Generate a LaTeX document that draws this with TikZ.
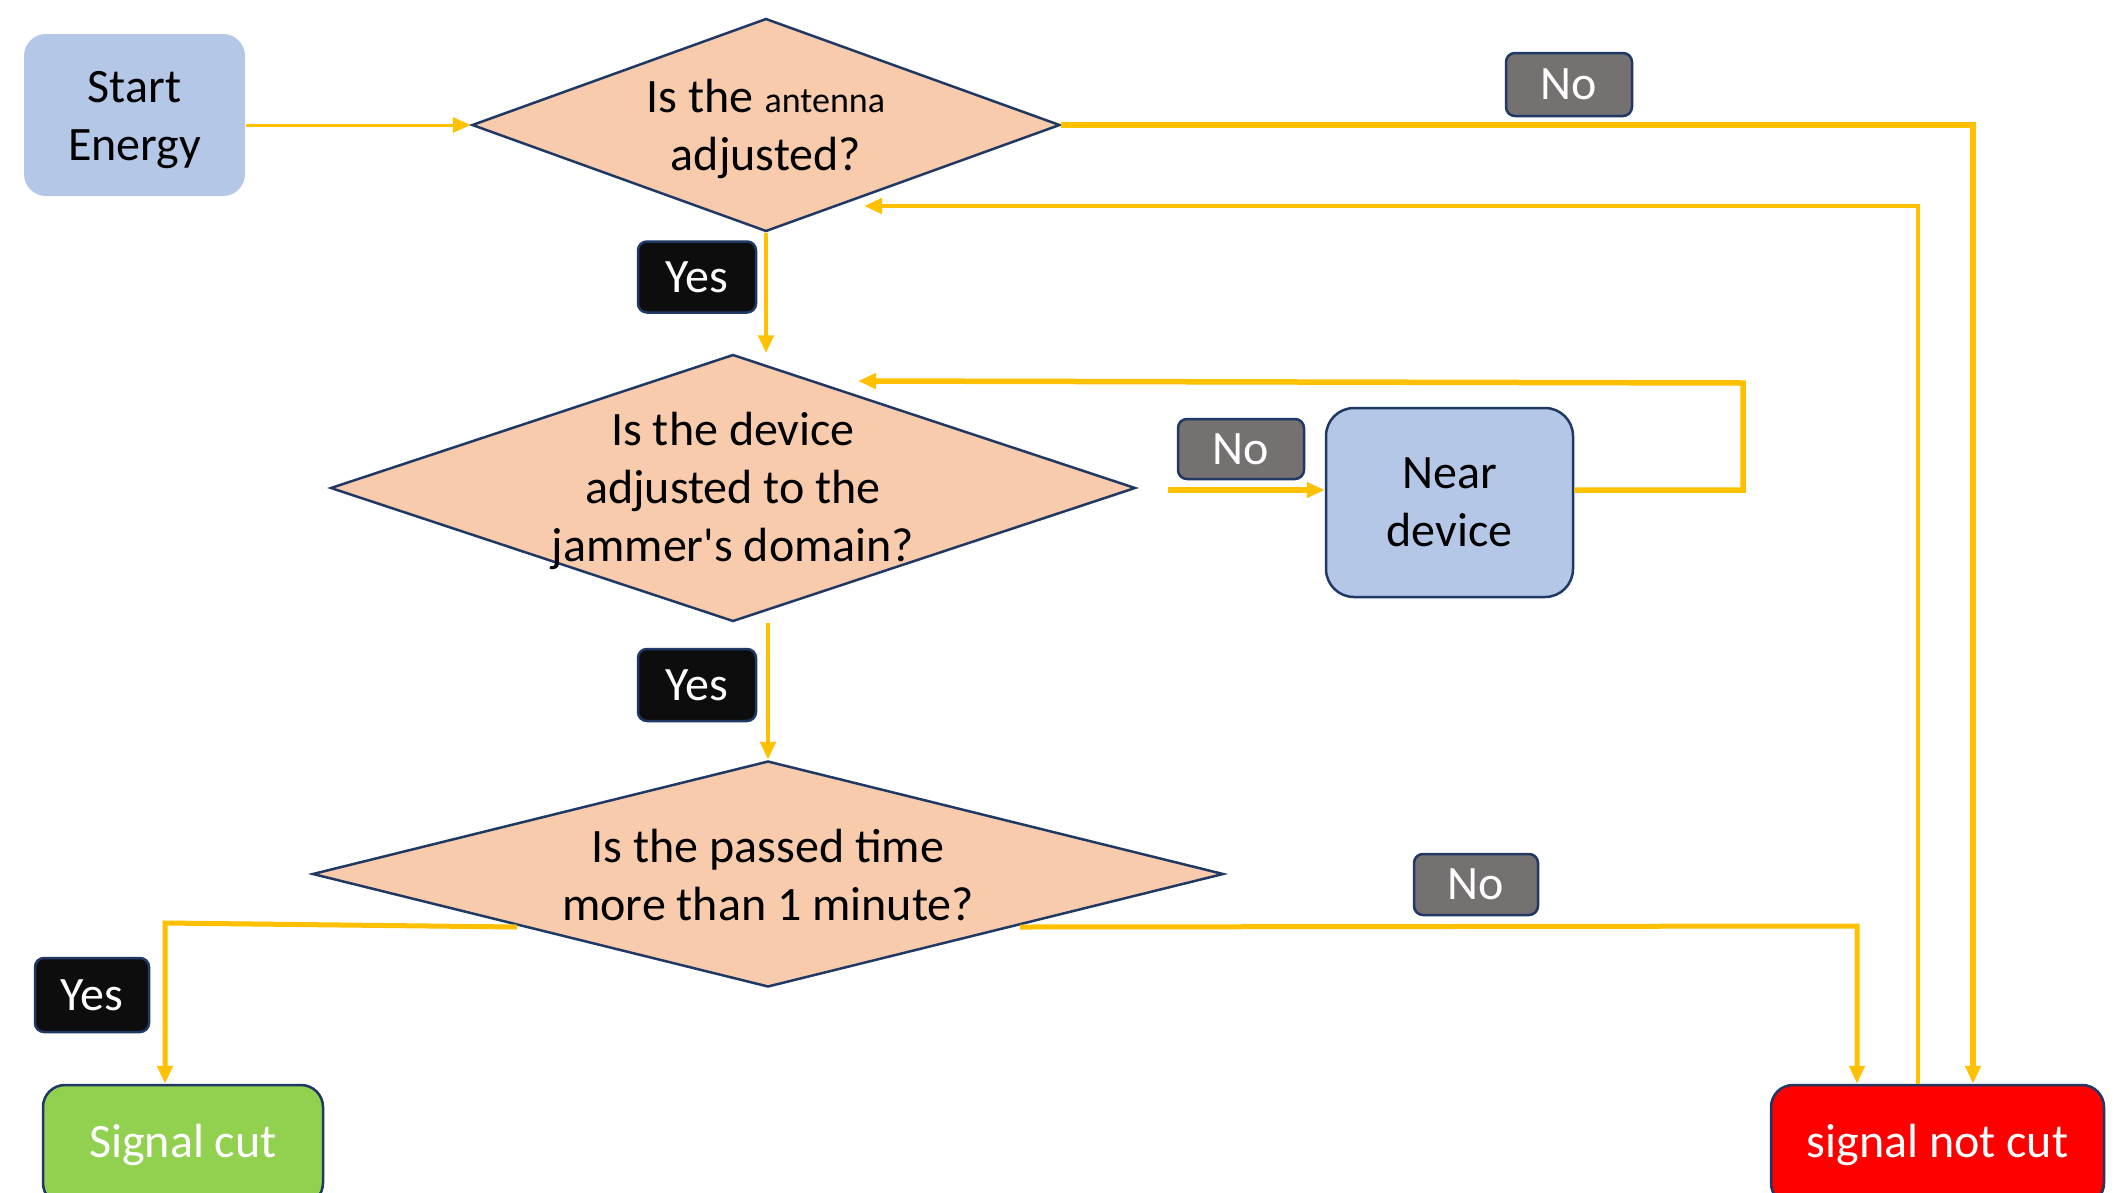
\documentclass[tikz,border=0pt]{standalone}
\usepackage{fontspec}
\setmainfont{Carlito}[Ligatures=TeXOff]
\usetikzlibrary{arrows.meta,shapes.geometric,calc}
\definecolor{boxblue}{HTML}{B4C7E7}
\definecolor{peach}{HTML}{F8CBAD}
\definecolor{navy}{HTML}{1F3864}
\definecolor{flow}{HTML}{FFC000}
\definecolor{nogray}{HTML}{767171}
\definecolor{yesblack}{HTML}{0D0D0D}
\definecolor{cutgreen}{HTML}{92D050}
\definecolor{notcutred}{HTML}{FF0000}
\begin{document}
\begin{tikzpicture}[x=1pt,y=-1pt,
  every node/.style={font=\fontsize{48}{58}\selectfont, inner sep=0pt},
  dia/.style={diamond, draw=navy, line width=2.5pt, fill=peach},
  qtext/.style={align=center, text=black},
  rbox/.style={rounded corners=28pt, draw=navy, line width=2.5pt, align=center},
  tag/.style={rounded corners=9pt, draw=navy, line width=2.5pt, text=white},
  flowline/.style={draw=flow, line width=4.5pt},
  arr/.style={flowline, -{Triangle[length=18pt,width=15pt]}},
]
\clip (0,0) rectangle (2128,1192);
\fill[white] (0,0) rectangle (2128,1192);

% nodes
\node[rbox, draw=none, fill=boxblue, minimum width=221pt, minimum height=162pt, rounded corners=22pt] (start) at (134.5,115) {};
\node[align=center] (startt) at (134.5,120) {Start\\Energy};
\node[dia, minimum width=588pt, minimum height=213pt] (d1) at (766,125) {};
\node[qtext] (d1t) at (766,129) {Is the {\fontsize{36}{40}\selectfont antenna}\\adjusted?};
\node[tag, fill=yesblack, minimum width=118pt, minimum height=71pt] (yes1) at (697,277) {Yes};
\node[tag, fill=nogray, minimum width=126pt, minimum height=63pt] (no1) at (1569,84.5) {No};

\node[dia, minimum width=805pt, minimum height=267pt] (d2) at (733,488) {};
\node[qtext] (d2t) at (733,491) {Is the device\\adjusted to the\\jammer's domain?};
\node[tag, fill=nogray, minimum width=126pt, minimum height=60pt] (no2) at (1241,449) {No};
\node[rbox, fill=boxblue, minimum width=247pt, minimum height=189pt] (near) at (1449.5,502.5) {Near\\device};
\node[tag, fill=yesblack, minimum width=118pt, minimum height=72pt] (yes2) at (697,685) {Yes};

\node[dia, minimum width=911pt, minimum height=226pt] (d3) at (768,874) {};
\node[qtext] (d3t) at (768,875) {Is the passed time\\more than 1 minute?};
\node[tag, fill=yesblack, minimum width=114pt, minimum height=74pt] (yes3) at (92,995) {Yes};
\node[tag, fill=nogray, minimum width=124pt, minimum height=61pt] (no3) at (1476,884.5) {No};

\node[rbox, fill=cutgreen, text=white, rounded corners=22pt, minimum width=280pt, minimum height=120pt] (sc) at (183,1145) {Signal cut};
\node[rbox, fill=notcutred, text=white, rounded corners=22pt, minimum width=333pt, minimum height=120pt] (snc) at (1937.5,1145) {signal not cut};

% waypoints
\coordinate (c1) at (1973,125);
\coordinate (c2) at (1918,206);
\coordinate (c2t) at (864,206);
\coordinate (c3) at (1743,383);
\coordinate (c3t) at (858,381);
\coordinate (c4s) at (517,927);
\coordinate (c4) at (165,923);
\coordinate (c5s) at (1020,927);
\coordinate (c5) at (1857,926);
\coordinate (nearlev) at (0,490);

% connectors
\draw[arr, line width=3pt] (start.east |- d1.west) -- (d1.west);
\draw[arr] (d1.south) -- (d1.south |- d2.north);
\draw[arr, line width=5.5pt] (d1.east) -- (c1) -- (c1 |- snc.north);
\draw[arr] (snc.north -| c2) -- (c2) -- (c2t);
\draw[arr, line width=5.5pt] ($(d2.east)+(31,2)$) -- (near.west |- nearlev);
\draw[arr, line width=5.5pt] (near.east |- nearlev) -- (c3 |- nearlev) -- (c3) -- (c3t);
\draw[arr] (d3.north |- d2.south) -- (d3.north);
\draw[arr, line width=5pt] (c4s) -- (c4) -- (c4 |- sc.north);
\draw[arr, line width=5pt] (c5s) -- (c5) -- (c5 |- snc.north);
\end{tikzpicture}
\end{document}
